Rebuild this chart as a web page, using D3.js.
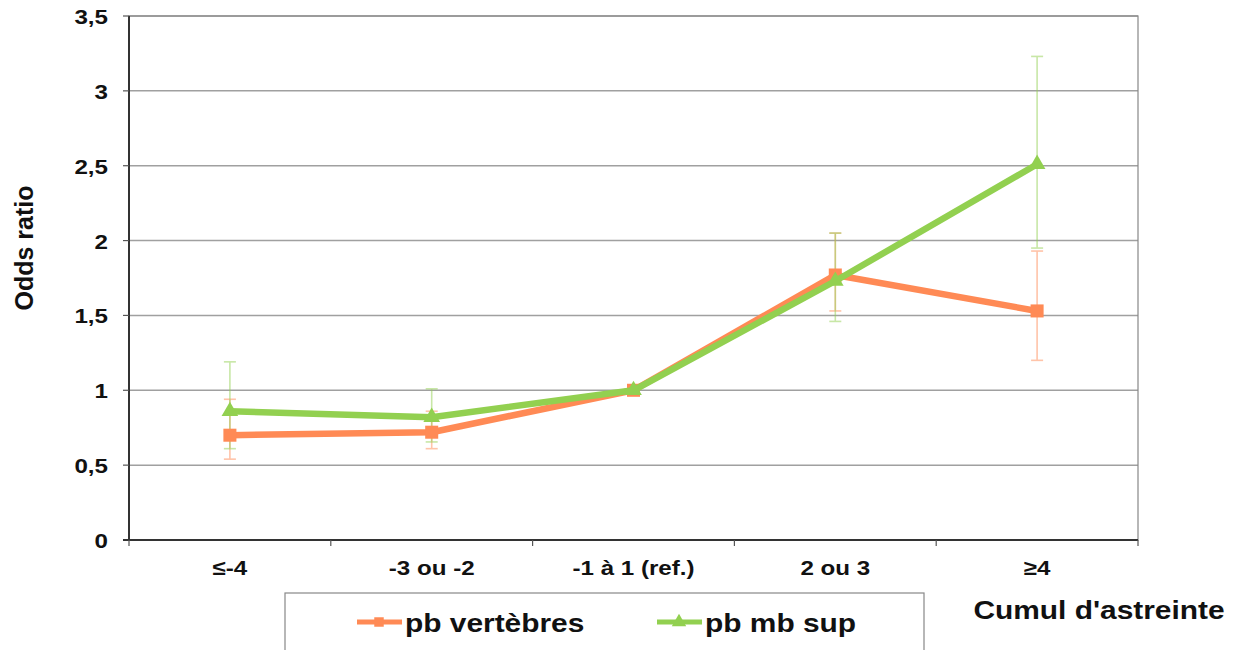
<!DOCTYPE html>
<html lang="fr">
<head>
<meta charset="utf-8">
<title>Odds ratio - cumul d'astreinte</title>
<script src="https://cdn.jsdelivr.net/npm/d3@7"></script>
<style>
  body { margin: 0; background: #fff; }
  text { font-family: "Liberation Sans", Arial, sans-serif; font-weight: bold; fill: #111; }
</style>
</head>
<body>
<script>
// categories and values
var categories = ["≤-4", "-3 ou -2", "-1 à 1 (ref.)", "2 ou 3", "≥4"];
var yTicks = [0, 0.5, 1, 1.5, 2, 2.5, 3, 3.5];

var vertebres = [0.70, 0.72, 1.00, 1.77, 1.53];
var vertebresLow = [0.54, 0.61, null, 1.53, 1.20];
var vertebresHigh = [0.94, 0.86, null, 2.05, 1.93];

var mbSup = [0.86, 0.82, 1.00, 1.73, 2.51];
var mbSupLow = [0.61, 0.655, null, 1.46, 1.95];
var mbSupHigh = [1.19, 1.01, null, 2.05, 3.23];

var W = 1233, H = 650;
var plotL = 129, plotR = 1138, plotT = 16, plotB = 540;
var SX = 1.15; // the source picture is a bit stretched sideways

var svg = d3.select("body").append("svg")
    .attr("width", W).attr("height", H);

var x = d3.scaleBand().domain(categories).range([plotL, plotR]);
var y = d3.scaleLinear().domain([0, 3.5]).range([plotB, plotT]);

function label(g, px, py, str, size, anchor) {
  return g.append("text")
      .attr("transform", "translate(" + px + "," + py + ") scale(" + SX + ",1)")
      .attr("text-anchor", anchor || "middle")
      .style("font-size", size + "px")
      .text(str);
}

// grid lines
svg.append("g").selectAll("line").data(yTicks.slice(1)).join("line")
    .attr("x1", plotL).attr("x2", plotR)
    .attr("y1", d => y(d)).attr("y2", d => y(d))
    .attr("stroke", "#a0a0a0").attr("stroke-width", 1.5);

// plot frame
svg.append("rect")
    .attr("x", plotL).attr("y", plotT)
    .attr("width", plotR - plotL).attr("height", plotB - plotT)
    .attr("fill", "none").attr("stroke", "#888").attr("stroke-width", 1.2);

// y axis: line, ticks and labels
var gy = svg.append("g");
gy.append("line").attr("x1", plotL).attr("x2", plotL).attr("y1", plotT).attr("y2", plotB)
    .attr("stroke", "#333").attr("stroke-width", 2);
gy.selectAll(".tk").data(yTicks).join("line").attr("class", "tk")
    .attr("x1", plotL - 6).attr("x2", plotL).attr("y1", d => y(d)).attr("y2", d => y(d))
    .attr("stroke", "#555").attr("stroke-width", 1.2);
yTicks.forEach(function(t) {
  label(gy, 108, y(t) + 8, String(t).replace(".", ","), 21, "end");
});

// x axis, ticks at category boundaries
var gx = svg.append("g");
gx.append("line").attr("x1", plotL - 6).attr("x2", plotR).attr("y1", plotB).attr("y2", plotB)
    .attr("stroke", "#333").attr("stroke-width", 2);
var bounds = categories.map(c => x(c)).concat([plotR]);
gx.selectAll(".tk").data(bounds).join("line").attr("class", "tk")
    .attr("x1", d => d).attr("x2", d => d).attr("y1", plotB).attr("y2", plotB + 6)
    .attr("stroke", "#555").attr("stroke-width", 1.2);
categories.forEach(function(c) {
  label(gx, x(c) + x.bandwidth() / 2, 575, c, 21);
});

// axis titles
svg.append("text")
    .attr("transform", "translate(33,248) rotate(-90)")
    .attr("text-anchor", "middle").style("font-size", "25px")
    .text("Odds ratio");
label(svg, 1099, 619, "Cumul d'astreinte", 26);

var cx = d => x(d) + x.bandwidth() / 2;
var orange = "#ff8a55", green = "#92d050";

function errorBars(lo, hi, color) {
  var g = svg.append("g").attr("stroke", color).attr("stroke-width", 1.6).attr("opacity", 0.5);
  categories.forEach(function(c, i) {
    if (lo[i] == null) return;
    var xc = cx(c);
    g.append("line").attr("x1", xc).attr("x2", xc).attr("y1", y(lo[i])).attr("y2", y(hi[i]));
    [lo[i], hi[i]].forEach(function(v) {
      g.append("line").attr("x1", xc - 6).attr("x2", xc + 6).attr("y1", y(v)).attr("y2", y(v));
    });
  });
}

function series(vals, color, shape) {
  var line = d3.line().x((d, i) => cx(categories[i])).y(d => y(d));
  svg.append("path").datum(vals).attr("d", line)
      .attr("fill", "none").attr("stroke", color).attr("stroke-width", 6.5)
      .attr("stroke-linejoin", "round");
  svg.append("g").selectAll("path").data(vals).join("path")
      .attr("transform", (d, i) => "translate(" + cx(categories[i]) + "," + y(d) + ")")
      .attr("d", d3.symbol().type(shape).size(shape === d3.symbolSquare ? 170 : 120))
      .attr("fill", color);
}

errorBars(vertebresLow, vertebresHigh, orange);
errorBars(mbSupLow, mbSupHigh, green);
series(vertebres, orange, d3.symbolSquare);
series(mbSup, green, d3.symbolTriangle);

// legend
var lg = svg.append("g");
lg.append("rect").attr("x", 285).attr("y", 593).attr("width", 639).attr("height", 80)
    .attr("fill", "#fff").attr("stroke", "#888").attr("stroke-width", 1.2);
var items = [
  {name: "pb vertèbres", color: orange, shape: d3.symbolSquare, x: 357},
  {name: "pb mb sup", color: green, shape: d3.symbolTriangle, x: 657}
];
items.forEach(function(it) {
  lg.append("line").attr("x1", it.x).attr("x2", it.x + 45).attr("y1", 622).attr("y2", 622)
      .attr("stroke", it.color).attr("stroke-width", 5);
  lg.append("path").attr("transform", "translate(" + (it.x + 22) + ",622)")
      .attr("d", d3.symbol().type(it.shape).size(90)).attr("fill", it.color);
  label(lg, it.x + 48, 632, it.name, 26, "start");
});
</script>
</body>
</html>
